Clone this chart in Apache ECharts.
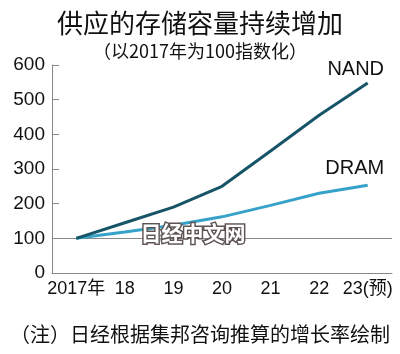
<!DOCTYPE html>
<html>
<head>
<meta charset="utf-8">
<script src="https://cdn.jsdelivr.net/npm/echarts@6/dist/echarts.min.js"></script>
<style>
  html, body { margin: 0; padding: 0; background: #fff; }
  #main { width: 400px; height: 354px; }
</style>
</head>
<body>
<div id="main"></div>
<script>
// 数据
const years = ['2017年', '18', '19', '20', '21', '22', '23(预)']
const nandData = [100, 145, 190, 250, 352, 455, 548]
const dramData = [100, 118, 138, 162, 195, 230, 253]
const yTicks = [0, 100, 200, 300, 400, 500, 600]

const fontFam = '"Liberation Sans", "Noto Sans CJK SC", sans-serif'
const cjkFont = '"Noto Sans CJK SC", sans-serif'

// 最后一个点加上系列名标签
function withEndLabel (arr, name, dist, offX) {
  return arr.map((v, i) => {
    if (i !== arr.length - 1) return v
    return {
      value: v,
      label: {
        show: true,
        formatter: name,
        position: 'top',
        distance: dist,
        offset: [offX, 0],
        color: '#111',
        fontSize: 20,
        fontFamily: fontFam
      }
    }
  })
}

const myChart = echarts.init(document.getElementById('main'))
const option = {
  animation: false,
  title: [
    {
      text: '供应的存储容量持续增加',
      left: 'center',
      top: 5,
      textStyle: { fontSize: 26, fontWeight: 'normal', color: '#111', fontFamily: cjkFont }
    },
    {
      text: '（以2017年为100指数化）',
      left: 'center',
      top: 37,
      textStyle: { fontSize: 18, fontWeight: 'normal', color: '#111', fontFamily: cjkFont }
    },
    {
      text: '（注）日经根据集邦咨询推算的增长率绘制',
      left: 'center',
      top: 319,
      textStyle: { fontSize: 20, fontWeight: 'normal', color: '#111', fontFamily: cjkFont }
    }
  ],
  graphic: [
    {
      type: 'text',
      left: 139,
      top: 221,
      z: 100,
      style: {
        text: '日经中文网',
        fontSize: 21,
        fontWeight: 'bold',
        fontFamily: cjkFont,
        fill: '#fff',
        stroke: '#5e5454',
        lineWidth: 3
      }
    }
  ],
  grid: { left: 52, right: 8, top: 65, bottom: 81 },
  xAxis: {
    type: 'category',
    data: years,
    boundaryGap: true,
    axisLine: { lineStyle: { color: '#888', width: 1 } },
    axisTick: { inside: true, length: 7, alignWithLabel: true, lineStyle: { color: '#888' } },
    axisLabel: { color: '#111', fontSize: 18, fontFamily: fontFam, margin: 7, interval: 0 }
  },
  yAxis: {
    type: 'value',
    min: 0,
    max: 600,
    interval: 100,
    axisLine: { show: true, lineStyle: { color: '#888', width: 1 } },
    axisTick: { show: true, inside: true, length: 7, lineStyle: { color: '#888' } },
    axisLabel: {
      color: '#111', fontSize: 19, fontFamily: fontFam, margin: 7,
      formatter: v => (yTicks.includes(v) ? String(v) : '')
    },
    splitLine: { show: false }
  },
  series: [
    {
      name: 'NAND',
      type: 'line',
      data: withEndLabel(nandData, 'NAND', 4, -12),
      symbol: 'circle',
      symbolSize: 0,
      lineStyle: { color: '#175468', width: 3 },
      itemStyle: { color: '#175468' },
      z: 3,
      markLine: {
        silent: true,
        symbol: 'none',
        label: { show: false },
        lineStyle: { color: '#888', type: 'solid', width: 1 },
        data: [{ yAxis: 100 }],
        z: 1
      }
    },
    {
      name: 'DRAM',
      type: 'line',
      data: withEndLabel(dramData, 'DRAM', 7, -13),
      symbol: 'circle',
      symbolSize: 0,
      lineStyle: { color: '#36a2c9', width: 3 },
      itemStyle: { color: '#36a2c9' },
      z: 2
    }
  ]
}
myChart.setOption(option)
</script>
</body>
</html>
